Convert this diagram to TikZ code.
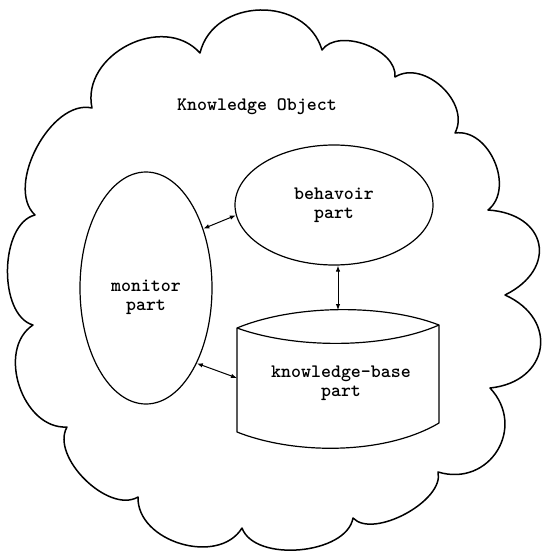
\documentclass[tikz,border=0pt]{standalone}
\usepackage{fontspec}
\usepackage{tikz}
\usetikzlibrary{shapes.geometric, arrows.meta, calc}

\begin{document}
\begin{tikzpicture}[x=1pt, y=-1pt,
  txt/.style={font=\ttfamily\bfseries\fontsize{19}{19}\selectfont, align=center},
  part/.style={draw, ellipse, line width=1.2pt, inner sep=0pt},
  link/.style={{Latex[length=6pt,width=4.5pt]}-{Latex[length=6pt,width=4.5pt]}, line width=1pt}]
\useasboundingbox (0,0) rectangle (542,552);
% the cloud
\draw[line width=1.5pt, line join=round]
  (92,108) to[bend left=75, looseness=1.16] (200,53)
  to[bend left=75, looseness=1.2] (322,50)
  to[bend left=75, looseness=0.92] (395,77)
  to[bend left=75, looseness=1.06] (455,133)
  to[bend left=75, looseness=1.06] (488,210)
  to[bend left=75, looseness=1.76] (505,295)
  to[bend left=75, looseness=1.62] (490,388)
  to[bend left=75, looseness=1.4] (438,472)
  to[bend left=75, looseness=0.78] (353,518)
  to[bend left=75, looseness=0.85] (242,528)
  to[bend left=75, looseness=1.06] (138,497)
  to[bend left=75, looseness=0.88] (67,427)
  to[bend left=75, looseness=1.06] (33,325)
  to[bend left=75, looseness=0.85] (35,215)
  to[bend left=75, looseness=0.88] cycle;
\node[txt] (title) at (257,107) {Knowledge Object};

% parts
\node[part, minimum width=198pt, minimum height=120pt, txt] (beh) at (334,205) {behavoir\\part};
\node[part, minimum width=132pt, minimum height=232pt] (mon) at (146,288) {};
\node[txt] (montxt) at ([yshift=-9pt]mon.center) {monitor\\part};

% knowledge base drum
\draw[line width=1.2pt, line join=round]
  (237,328) .. controls (295,304) and (385,304) .. (439,325)
  -- (439,423) .. controls (385,455) and (295,455) .. (237,432) -- cycle;
\draw[line width=1.2pt] (237,328) .. controls (295,349) and (385,349) .. (439,325);
\coordinate (kbtop) at (338,310);
\coordinate (kbleft) at (237,378);
\node[txt] (kb) at (341,383) {knowledge-base\\part};

% links
\draw[link] (mon.46) -- (beh.186);
\draw[link] (beh.south -| kbtop) -- (kbtop);
\draw[link] (mon.-56) -- (kbleft);
\end{tikzpicture}
\end{document}
